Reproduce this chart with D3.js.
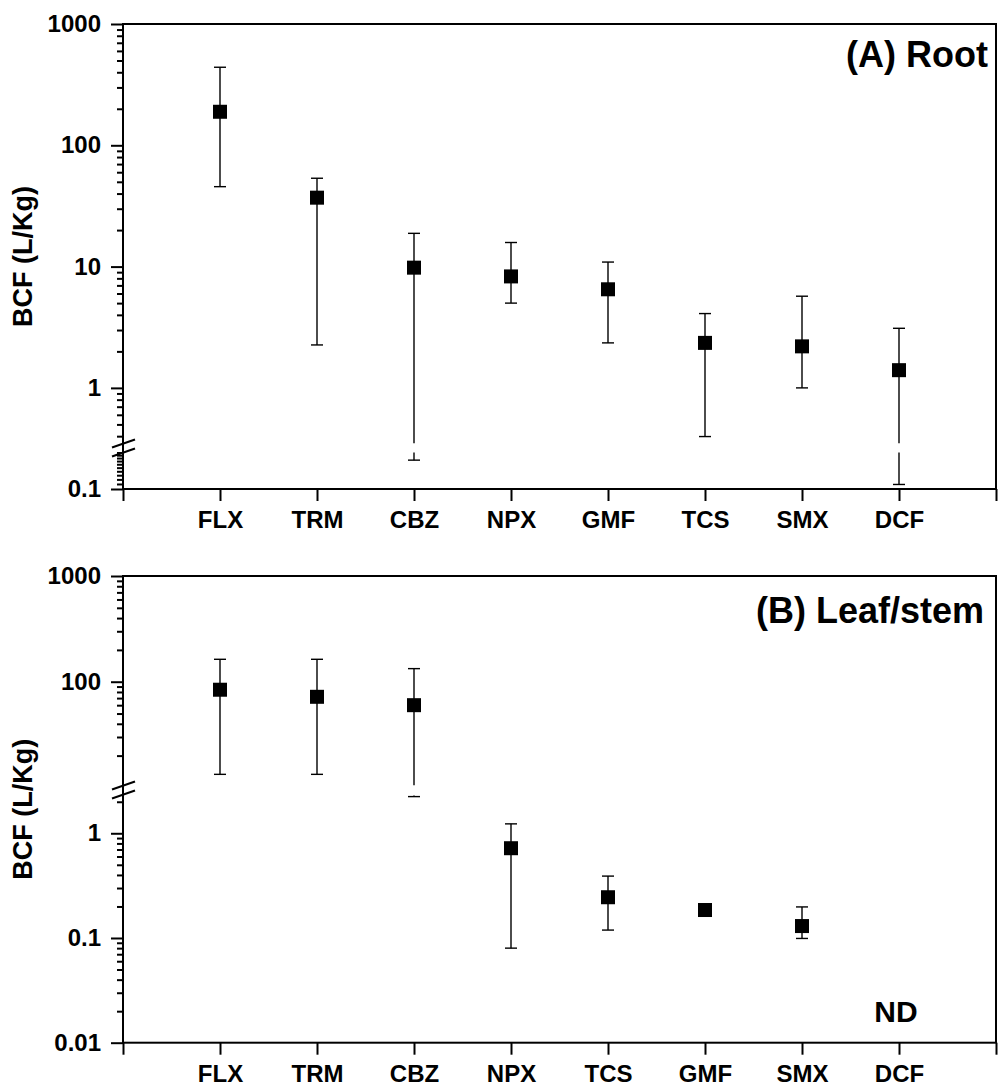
<!DOCTYPE html>
<html>
<head>
<meta charset="utf-8">
<script src="https://cdn.jsdelivr.net/npm/d3@7"></script>
<style>
  body { margin: 0; background: #fff; }
  text { font-family: 'Liberation Sans', Arial, sans-serif; font-weight: bold; fill: #000; }
</style>
</head>
<body>
<div id="svg-container"></div>
<script>
// panel A: root
const rootCategories = ['FLX', 'TRM', 'CBZ', 'NPX', 'GMF', 'TCS', 'SMX', 'DCF'];
const rootMean  = [189, 37, 9.8, 8.3, 6.5, 2.35, 2.2, 1.4];
const rootUpper = [440, 53.5, 18.8, 15.8, 10.9, 4.1, 5.7, 3.1];
const rootLower = [45.6, 2.26, 0.173, 5.0, 2.35, 0.397, 1.0, 0.109];
const rootTickLabels = [1000, 100, 10, 1, 0.1];

// panel B: leaf/stem (DCF not detected)
const leafCategories = ['FLX', 'TRM', 'CBZ', 'NPX', 'TCS', 'GMF', 'SMX', 'DCF'];
const leafMean  = [84, 72, 60, 0.72, 0.245, 0.185, 0.13, null];
const leafUpper = [163, 163, 133, 1.23, 0.39, null, 0.198, null];
const leafLower = [13.3, 13.3, 2.24, 0.08, 0.119, null, 0.099, null];
const leafTickLabels = [1000, 100, 1, 0.1, 0.01];

const wSvg = 998, hSvg = 1089;
const xLeft = 123, xRight = 996;

let svg = d3.select('#svg-container')
    .append('svg')
    .attr('width', wSvg)
    .attr('height', hSvg);

let xScale = d3.scaleLinear()
    .domain([0, 9])
    .range([xLeft, xRight]);

function renderPanel(cfg) {
    const g = svg.append('g');
    const top = cfg.segments[0].range[0];
    const bottom = cfg.segments[cfg.segments.length - 1].range[1];

    // each piece of the broken axis gets its own log scale
    const segs = cfg.segments.map(s => ({
        lo: s.domain[1], hi: s.domain[0],
        scale: d3.scaleLog().domain(s.domain).range(s.range)
    }));
    const yAt = v => {
        const s = segs.find(s => v >= s.lo * 0.999 && v <= s.hi * 1.001) || segs[0];
        return s.scale(v);
    };

    //#region axes
    segs.forEach(s => {
        const majors = cfg.tickLabels.filter(v => v >= s.lo * 0.999 && v <= s.hi * 1.001);
        const minors = s.scale.ticks(10).filter(v => !majors.some(m => Math.abs(m - v) < 1e-9));

        g.append('g')
            .attr('transform', `translate(${xLeft},0)`)
            .call(d3.axisLeft(s.scale).tickValues(minors).tickSize(6).tickSizeOuter(0).tickFormat(''))
            .call(a => a.select('.domain').remove())
            .call(a => a.selectAll('line').attr('stroke-width', 2));

        g.append('g')
            .attr('transform', `translate(${xLeft},0)`)
            .call(d3.axisLeft(s.scale).tickValues(majors).tickSize(12).tickPadding(10).tickSizeOuter(0)
                .tickFormat(d => String(d)))
            .call(a => a.select('.domain').remove())
            .call(a => a.selectAll('line').attr('stroke-width', 2))
            .call(a => a.selectAll('text').style('font-size', '24px').attr('font-family', null));
    });

    g.append('g')
        .attr('transform', `translate(0,${bottom})`)
        .call(d3.axisBottom(xScale).tickValues(d3.range(0, 10)).tickSize(12).tickPadding(10).tickSizeOuter(0)
            .tickFormat(i => cfg.categories[i - 1] || ''))
        .call(a => a.select('.domain').remove())
        .call(a => a.selectAll('line').attr('stroke-width', 2))
        .call(a => a.selectAll('text').style('font-size', '24px').attr('font-family', null));

    // frame
    g.append('rect')
        .attr('x', xLeft).attr('y', top)
        .attr('width', xRight - xLeft).attr('height', bottom - top)
        .attr('fill', 'none').attr('stroke', '#000').attr('stroke-width', 2);

    // break marks
    [-4.5, 4.5].forEach(off => {
        g.append('line')
            .attr('x1', xLeft - 11).attr('y1', cfg.breakY + off + 4)
            .attr('x2', xLeft + 12).attr('y2', cfg.breakY + off - 4)
            .attr('stroke', '#000').attr('stroke-width', 2);
    });

    g.append('text')
        .attr('transform', `translate(32,${(top + bottom) / 2}) rotate(-90)`)
        .attr('text-anchor', 'middle')
        .style('font-size', '27px')
        .text('BCF (L/Kg)');

    g.append('text')
        .attr('x', cfg.titleX).attr('y', cfg.titleY)
        .attr('text-anchor', 'end')
        .style('font-size', '36px')
        .text(cfg.title);
    //#endregion

    //#region error bars & markers
    const rows = cfg.categories.map((c, i) => ({
        i: i + 1, mean: cfg.mean[i], upper: cfg.upper[i], lower: cfg.lower[i]
    }));

    const gBars = g.append('g').attr('stroke', '#000').attr('stroke-width', 1.4);
    rows.filter(d => d.upper != null && d.lower != null).forEach(d => {
        const x = xScale(d.i);
        segs.forEach(s => {
            const a = Math.max(d.lower, s.lo), b = Math.min(d.upper, s.hi);
            if (a < b) {
                gBars.append('line')
                    .attr('x1', x).attr('x2', x)
                    .attr('y1', s.scale(b)).attr('y2', s.scale(a));
            }
        });
        [d.upper, d.lower].forEach(v => {
            gBars.append('line')
                .attr('x1', x - 6).attr('x2', x + 6)
                .attr('y1', yAt(v)).attr('y2', yAt(v));
        });
    });

    g.append('g')
        .selectAll('rect')
        .data(rows.filter(d => d.mean != null))
        .enter()
        .append('rect')
        .attr('x', d => xScale(d.i) - 7)
        .attr('y', d => yAt(d.mean) - 7)
        .attr('width', 14)
        .attr('height', 14)
        .attr('fill', '#000');
    //#endregion

    rows.filter(d => d.mean == null).forEach(d => {
        g.append('text')
            .attr('x', xScale(d.i) - 3).attr('y', cfg.ndY)
            .attr('text-anchor', 'middle')
            .style('font-size', '30px')
            .text('ND');
    });
}

renderPanel({
    categories: rootCategories, mean: rootMean, upper: rootUpper, lower: rootLower,
    tickLabels: rootTickLabels,
    segments: [{ domain: [1000, 0.35], range: [24, 443.2] }, { domain: [0.2, 0.1], range: [452.5, 489] }],
    breakY: 448, title: '(A) Root', titleX: 988, titleY: 67
});

renderPanel({
    categories: leafCategories, mean: leafMean, upper: leafUpper, lower: leafLower,
    tickLabels: leafTickLabels,
    segments: [{ domain: [1000, 10.5], range: [576, 785.2] }, { domain: [2.3, 0.01], range: [795.4, 1042.7] }],
    breakY: 790, title: '(B) Leaf/stem', titleX: 984, titleY: 623, ndY: 1022
});
</script>
</body>
</html>
